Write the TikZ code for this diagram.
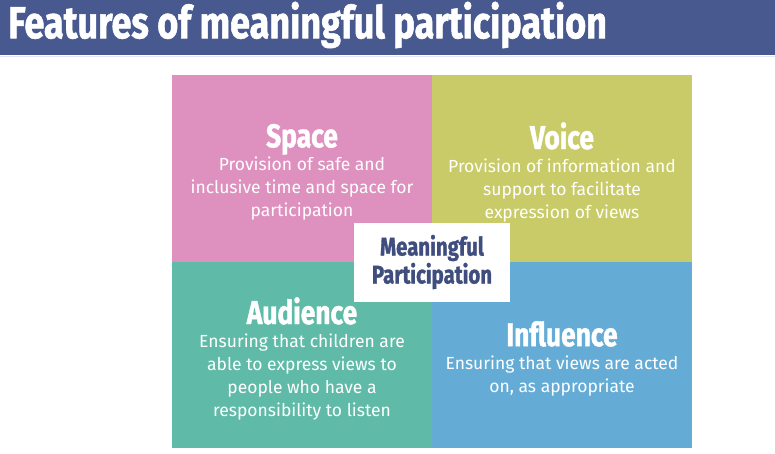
\documentclass[tikz,border=0pt]{standalone}
\usepackage{fontspec}
\setmainfont{Fira Sans}
\newfontfamily\condfont[FakeStretch=0.8,FakeBold=1.2]{Fira Sans Bold}
\usetikzlibrary{positioning}

\definecolor{barblue}{HTML}{47598E}
\definecolor{darkblue}{HTML}{3F4E7E}
\definecolor{spacepink}{HTML}{DE91BE}
\definecolor{voiceolive}{HTML}{C8CB68}
\definecolor{audteal}{HTML}{5FBBA8}
\definecolor{inflblue}{HTML}{64ACD6}

\tikzset{
  quad/.style={minimum width=260pt,minimum height=187pt,inner sep=0pt,outer sep=0pt},
  quadtext/.style={inner sep=0pt,yshift=-3.5pt,align=center,text=white,
    font=\fontsize{17.5}{23}\selectfont},
  centrebox/.style={fill=white,minimum width=156pt,minimum height=79pt,inner sep=0pt,
    align=center,text=darkblue,font=\condfont\fontsize{25.5}{28}\selectfont}
}
\newcommand\qhead[1]{{\condfont\fontsize{33}{33}\selectfont #1}}

\begin{document}
\begin{tikzpicture}[x=1pt,y=-1pt]
\useasboundingbox (0,0) rectangle (775,454);

% title bar
\fill[barblue] (0,0) rectangle (775,55);
\draw[line width=1.5pt,color=barblue!15] (0,56.5) -- (775,56.5);
\node[anchor=west,text=white,inner sep=0pt,font=\condfont\fontsize{45}{45}\selectfont]
  (title) at (8,25) {Features of meaningful participation};

% quadrants
\node[quad,fill=spacepink] (space) at (302,168.5) {};
\node[quad,fill=voiceolive,right=0pt of space] (voice) {};
\node[quad,fill=audteal,below=0pt of space,minimum height=186pt] (audience) {};
\node[quad,fill=inflblue,below=0pt of voice,minimum height=186pt] (influence) {};

\node[quadtext] (spacetext) at (space)
  {\qhead{Space}\\ Provision of safe and\\ inclusive time and space for\\ participation};
\node[quadtext] (voicetext) at (voice)
  {\qhead{Voice}\\ Provision of information and\\ support to facilitate\\ expression of views};
\node[quadtext] (audiencetext) at (audience)
  {\qhead{Audience}\\ Ensuring that children are\\ able to express views to\\ people who have a\\ responsibility to listen};
\node[quadtext] (influencetext) at (influence)
  {\qhead{Influence}\\ Ensuring that views are acted\\ on, as appropriate};

% centre
\node[centrebox] (meaningful) at (space.south east) {Meaningful\\ Participation};

\end{tikzpicture}
\end{document}
